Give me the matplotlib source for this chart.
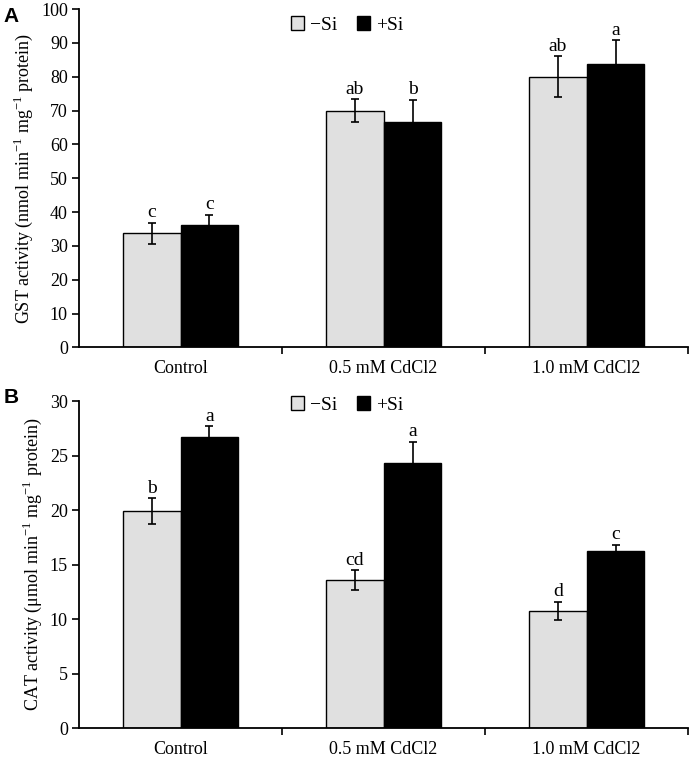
import numpy as np
import matplotlib
matplotlib.use('Agg')
import matplotlib.pyplot as plt

plt.rcParams['font.family'] = ['Liberation Serif', 'DejaVu Serif']
plt.rcParams['mathtext.fontset'] = 'custom'
plt.rcParams['mathtext.rm'] = 'Liberation Serif'

# data
categories = ['Control', '0.5 mM CdCl2', '1.0 mM CdCl2']

gst_minus = [33.7, 70.0, 80.0]
gst_minus_err = [3.1, 3.3, 6.0]
gst_plus = [36.3, 66.7, 83.7]
gst_plus_err = [2.9, 6.5, 7.1]
gst_minus_lab = ['c', 'ab', 'ab']
gst_plus_lab = ['c', 'b', 'a']

cat_minus = [19.9, 13.6, 10.75]
cat_minus_err = [1.2, 0.9, 0.85]
cat_plus = [26.7, 24.3, 16.25]
cat_plus_err = [1.0, 2.0, 0.6]
cat_minus_lab = ['b', 'cd', 'd']
cat_plus_lab = ['a', 'a', 'c']

fig = plt.figure(figsize=(6.93, 7.6), dpi=100)
axA = fig.add_axes([0.114, 0.543, 0.879, 0.445])
axB = fig.add_axes([0.114, 0.042, 0.879, 0.430])

x = np.arange(len(categories))
w = 0.285


def draw(ax, mvals, merr, pvals, perr, mlab, plab, ylim, step, ylabel, leg_y):
    ax.bar(x - w / 2, mvals, w, color='#e0e0e0', edgecolor='black', linewidth=1.0, label='\u2212Si', zorder=2)
    ax.bar(x + w / 2, pvals, w, color='black', edgecolor='black', linewidth=1.0, label='+Si', zorder=2)
    ax.errorbar(x - w / 2, mvals, yerr=merr, fmt='none', ecolor='black', elinewidth=1.2, capsize=3, capthick=1.2, zorder=3)
    ax.errorbar(x + w / 2, pvals, yerr=perr, fmt='none', ecolor='black', elinewidth=1.2, capsize=3, capthick=1.2, zorder=1)
    for xi, v, e, t in zip(x - w / 2, mvals, merr, mlab):
        ax.annotate(t, (xi, v + e), xytext=(0, 1.0), textcoords='offset points', ha='center', va='bottom', fontsize=14)
    for xi, v, e, t in zip(x + w / 2, pvals, perr, plab):
        ax.annotate(t, (xi, v + e), xytext=(0, 1.0), textcoords='offset points', ha='center', va='bottom', fontsize=14)
    ax.set_xlim(-0.5, 2.5)
    ax.set_ylim(*ylim)
    ax.set_yticks(np.arange(ylim[0], ylim[1] + step / 2, step))
    ax.set_xticks(x)
    ax.set_xticklabels(categories, fontsize=13)
    ax.set_xticks([0.5, 1.5, 2.5], minor=True)
    ax.tick_params(axis='x', which='major', length=0, pad=9)
    ax.tick_params(axis='x', which='minor', length=5, width=1.2, direction='out')
    ax.tick_params(axis='y', length=5, width=1.2, direction='out', labelsize=13, pad=3)
    for s in ['top', 'right']:
        ax.spines[s].set_visible(False)
    for s in ['left', 'bottom']:
        ax.spines[s].set_linewidth(1.3)
    ax.set_ylabel(ylabel, fontsize=13, labelpad=4)
    ax.legend(loc='center', bbox_to_anchor=(0.44, leg_y), ncol=2, frameon=False, fontsize=14,
              handlelength=0.7, handleheight=0.7, handletextpad=0.3, columnspacing=1.0)


draw(axA, gst_minus, gst_minus_err, gst_plus, gst_plus_err, gst_minus_lab, gst_plus_lab,
     (0, 100), 10, 'GST activity (nmol min$^{\\mathregular{-1}}$ mg$^{\\mathregular{-1}}$ protein)', 0.953)
draw(axB, cat_minus, cat_minus_err, cat_plus, cat_plus_err, cat_minus_lab, cat_plus_lab,
     (0, 30), 5, 'CAT activity (\u03bcmol min$^{\\mathregular{-1}}$ mg$^{\\mathregular{-1}}$ protein)', 0.988)

fig.text(0.005, 0.978, 'A', fontsize=15, fontweight='bold', family='Liberation Sans', va='center')
fig.text(0.005, 0.477, 'B', fontsize=15, fontweight='bold', family='Liberation Sans', va='center')

fig.savefig('out.png', dpi=100)
